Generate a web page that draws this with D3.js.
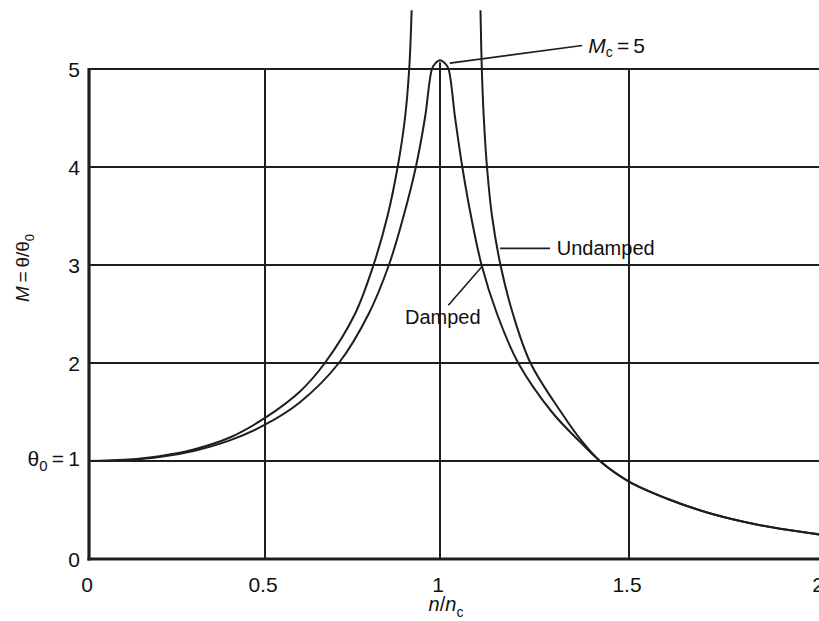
<!DOCTYPE html>
<html><head><meta charset="utf-8">
<script src="https://cdn.jsdelivr.net/npm/d3@7"></script>
<style>
html,body{margin:0;padding:0;background:#fff;}
svg{display:block;font-family:"Liberation Sans",Arial,Helvetica,sans-serif;}
</style></head><body>
<svg id="chart" width="819" height="621"></svg>
<script>
// ---- data ----
const xTicks = [0, 0.5, 1, 1.5, 2];
const xTickLabels = ["0", "0.5", "1", "1.5", "2"];
const yTicks = [0, 1, 2, 3, 4, 5];
const yTickLabels = ["0", "1", "2", "3", "4", "5"];

// [n/nc, M]
const undampedLeft = [
  [0, 1.0], [0.1, 1.012], [0.2, 1.049], [0.3, 1.12], [0.4, 1.24], [0.5, 1.44],
  [0.6, 1.71], [0.671, 2.0], [0.757, 2.5], [0.81, 3.0], [0.85, 3.5],
  [0.879, 4.0], [0.9, 4.5], [0.912, 5.0], [0.919, 5.6]
];
const undampedRight = [
  [1.1071, 5.6], [1.1106, 5.0], [1.1159, 4.5], [1.1243, 4.0], [1.1376, 3.5],
  [1.160, 3.0], [1.193, 2.5], [1.2394, 2.0], [1.320, 1.5], [1.3757, 1.2],
  [1.423, 1.0], [1.5, 0.79], [1.6, 0.615], [1.7, 0.48], [1.8, 0.38],
  [1.9, 0.305], [2.0, 0.25]
];
const damped = [
  [0, 1.0], [0.1, 1.008], [0.2, 1.04], [0.3, 1.105], [0.4, 1.21], [0.5, 1.37],
  [0.6, 1.60], [0.711, 2.0], [0.796, 2.5], [0.854, 3.0], [0.896, 3.5],
  [0.931, 4.0], [0.957, 4.5], [0.977, 5.0], [0.986, 5.055], [1.0, 5.09],
  [1.014, 5.055], [1.0225, 5.0], [1.040, 4.5], [1.059, 4.0], [1.082, 3.5],
  [1.110, 3.0], [1.151, 2.5], [1.207, 2.0], [1.296, 1.5], [1.369, 1.2],
  [1.423, 1.0], [1.5, 0.79], [1.6, 0.615], [1.7, 0.48], [1.8, 0.38],
  [1.9, 0.305], [2.0, 0.25]
];

// ---- drawing ----
const ink = "#1e1e1e";
const svg = d3.select("#chart");
const x = d3.scaleLinear().domain(xTicks).range([89, 265, 440, 629, 820]);
const y = d3.scaleLinear().domain([0, 5]).range([559, 69]);

const g = svg.append("g");

// horizontal grid lines
g.selectAll("line.h").data(yTicks.filter(d => d > 0)).join("line")
  .attr("x1", x(0)).attr("x2", 824)
  .attr("y1", d => y(d)).attr("y2", d => y(d))
  .attr("stroke", ink).attr("stroke-width", 2);

// vertical grid lines
g.selectAll("line.v").data(xTicks.filter(d => d > 0)).join("line")
  .attr("x1", d => x(d)).attr("x2", d => x(d))
  .attr("y1", y(0)).attr("y2", d => d === 1 ? y(5.07) : y(5))
  .attr("stroke", ink).attr("stroke-width", 2);

// axes
g.append("line").attr("x1", x(0)).attr("x2", x(0)).attr("y1", y(0) + 1.5).attr("y2", y(5) - 1)
  .attr("stroke", ink).attr("stroke-width", 3.2);
g.append("line").attr("x1", x(0) - 1.5).attr("x2", 824).attr("y1", y(0)).attr("y2", y(0))
  .attr("stroke", ink).attr("stroke-width", 3.2);

// curves
const line = d3.line().x(d => x(d[0])).y(d => y(d[1])).curve(d3.curveCatmullRom.alpha(0.5));
[undampedLeft, undampedRight, damped].forEach(s => {
  g.append("path").attr("d", line(s)).attr("fill", "none")
    .attr("stroke", ink).attr("stroke-width", 2);
});

// x tick labels
g.selectAll("text.xt").data(xTicks).join("text")
  .attr("x", d => x(d) - 2).attr("y", 592)
  .attr("text-anchor", "middle").attr("font-size", 21).attr("fill", "#111")
  .text((d, i) => xTickLabels[i]);

// y tick labels
yTicks.forEach((d, i) => {
  const t = g.append("text").attr("x", 80).attr("y", y(d) + 8)
    .attr("text-anchor", "end").attr("font-size", 21).attr("fill", "#111");
  if (d === 1) {
    t.attr("y", y(d) + 5);
    t.append("tspan").text("θ");
    t.append("tspan").attr("font-size", 15).attr("dy", 5).text("0");
    t.append("tspan").attr("dy", -5).text("\u2009=\u2009" + yTickLabels[i]);
  } else {
    t.text(yTickLabels[i]);
  }
});

// axis titles
const yt = g.append("text").attr("transform", "translate(29,268) rotate(-90)")
  .attr("text-anchor", "middle").attr("font-size", 19).attr("fill", "#111");
yt.append("tspan").attr("font-style", "italic").text("M");
yt.append("tspan").text("\u2009=\u2009θ/θ");
yt.append("tspan").attr("font-size", 13).attr("dy", 5).text("0");

const xt = g.append("text").attr("x", 446).attr("y", 611)
  .attr("text-anchor", "middle").attr("font-size", 20).attr("fill", "#111");
xt.append("tspan").attr("font-style", "italic").text("n");
xt.append("tspan").text("/");
xt.append("tspan").attr("font-style", "italic").text("n");
xt.append("tspan").attr("font-size", 14).attr("dy", 6).text("c");

// annotations
function leader(x1, m1, x2, m2) {
  g.append("line").attr("x1", x(x1)).attr("y1", y(m1)).attr("x2", x(x2)).attr("y2", y(m2))
    .attr("stroke", ink).attr("stroke-width", 1.6);
}
leader(1.026, 5.06, 1.376, 5.24);
const mc = g.append("text").attr("x", x(1.392)).attr("y", y(5.16))
  .attr("font-size", 21).attr("fill", "#111");
mc.append("tspan").attr("font-style", "italic").text("M");
mc.append("tspan").attr("font-size", 14).attr("dy", 4).text("c");
mc.append("tspan").attr("dy", -4).text("\u2009=\u20095");

leader(1.159, 3.17, 1.291, 3.17);
g.append("text").attr("x", x(1.309)).attr("y", y(3.10))
  .attr("font-size", 20).attr("fill", "#111").text("Undamped");

leader(1.110, 2.98, 1.022, 2.59);
g.append("text").attr("x", x(0.9)).attr("y", y(2.40))
  .attr("font-size", 20).attr("fill", "#111").text("Damped");
</script>
</body></html>
